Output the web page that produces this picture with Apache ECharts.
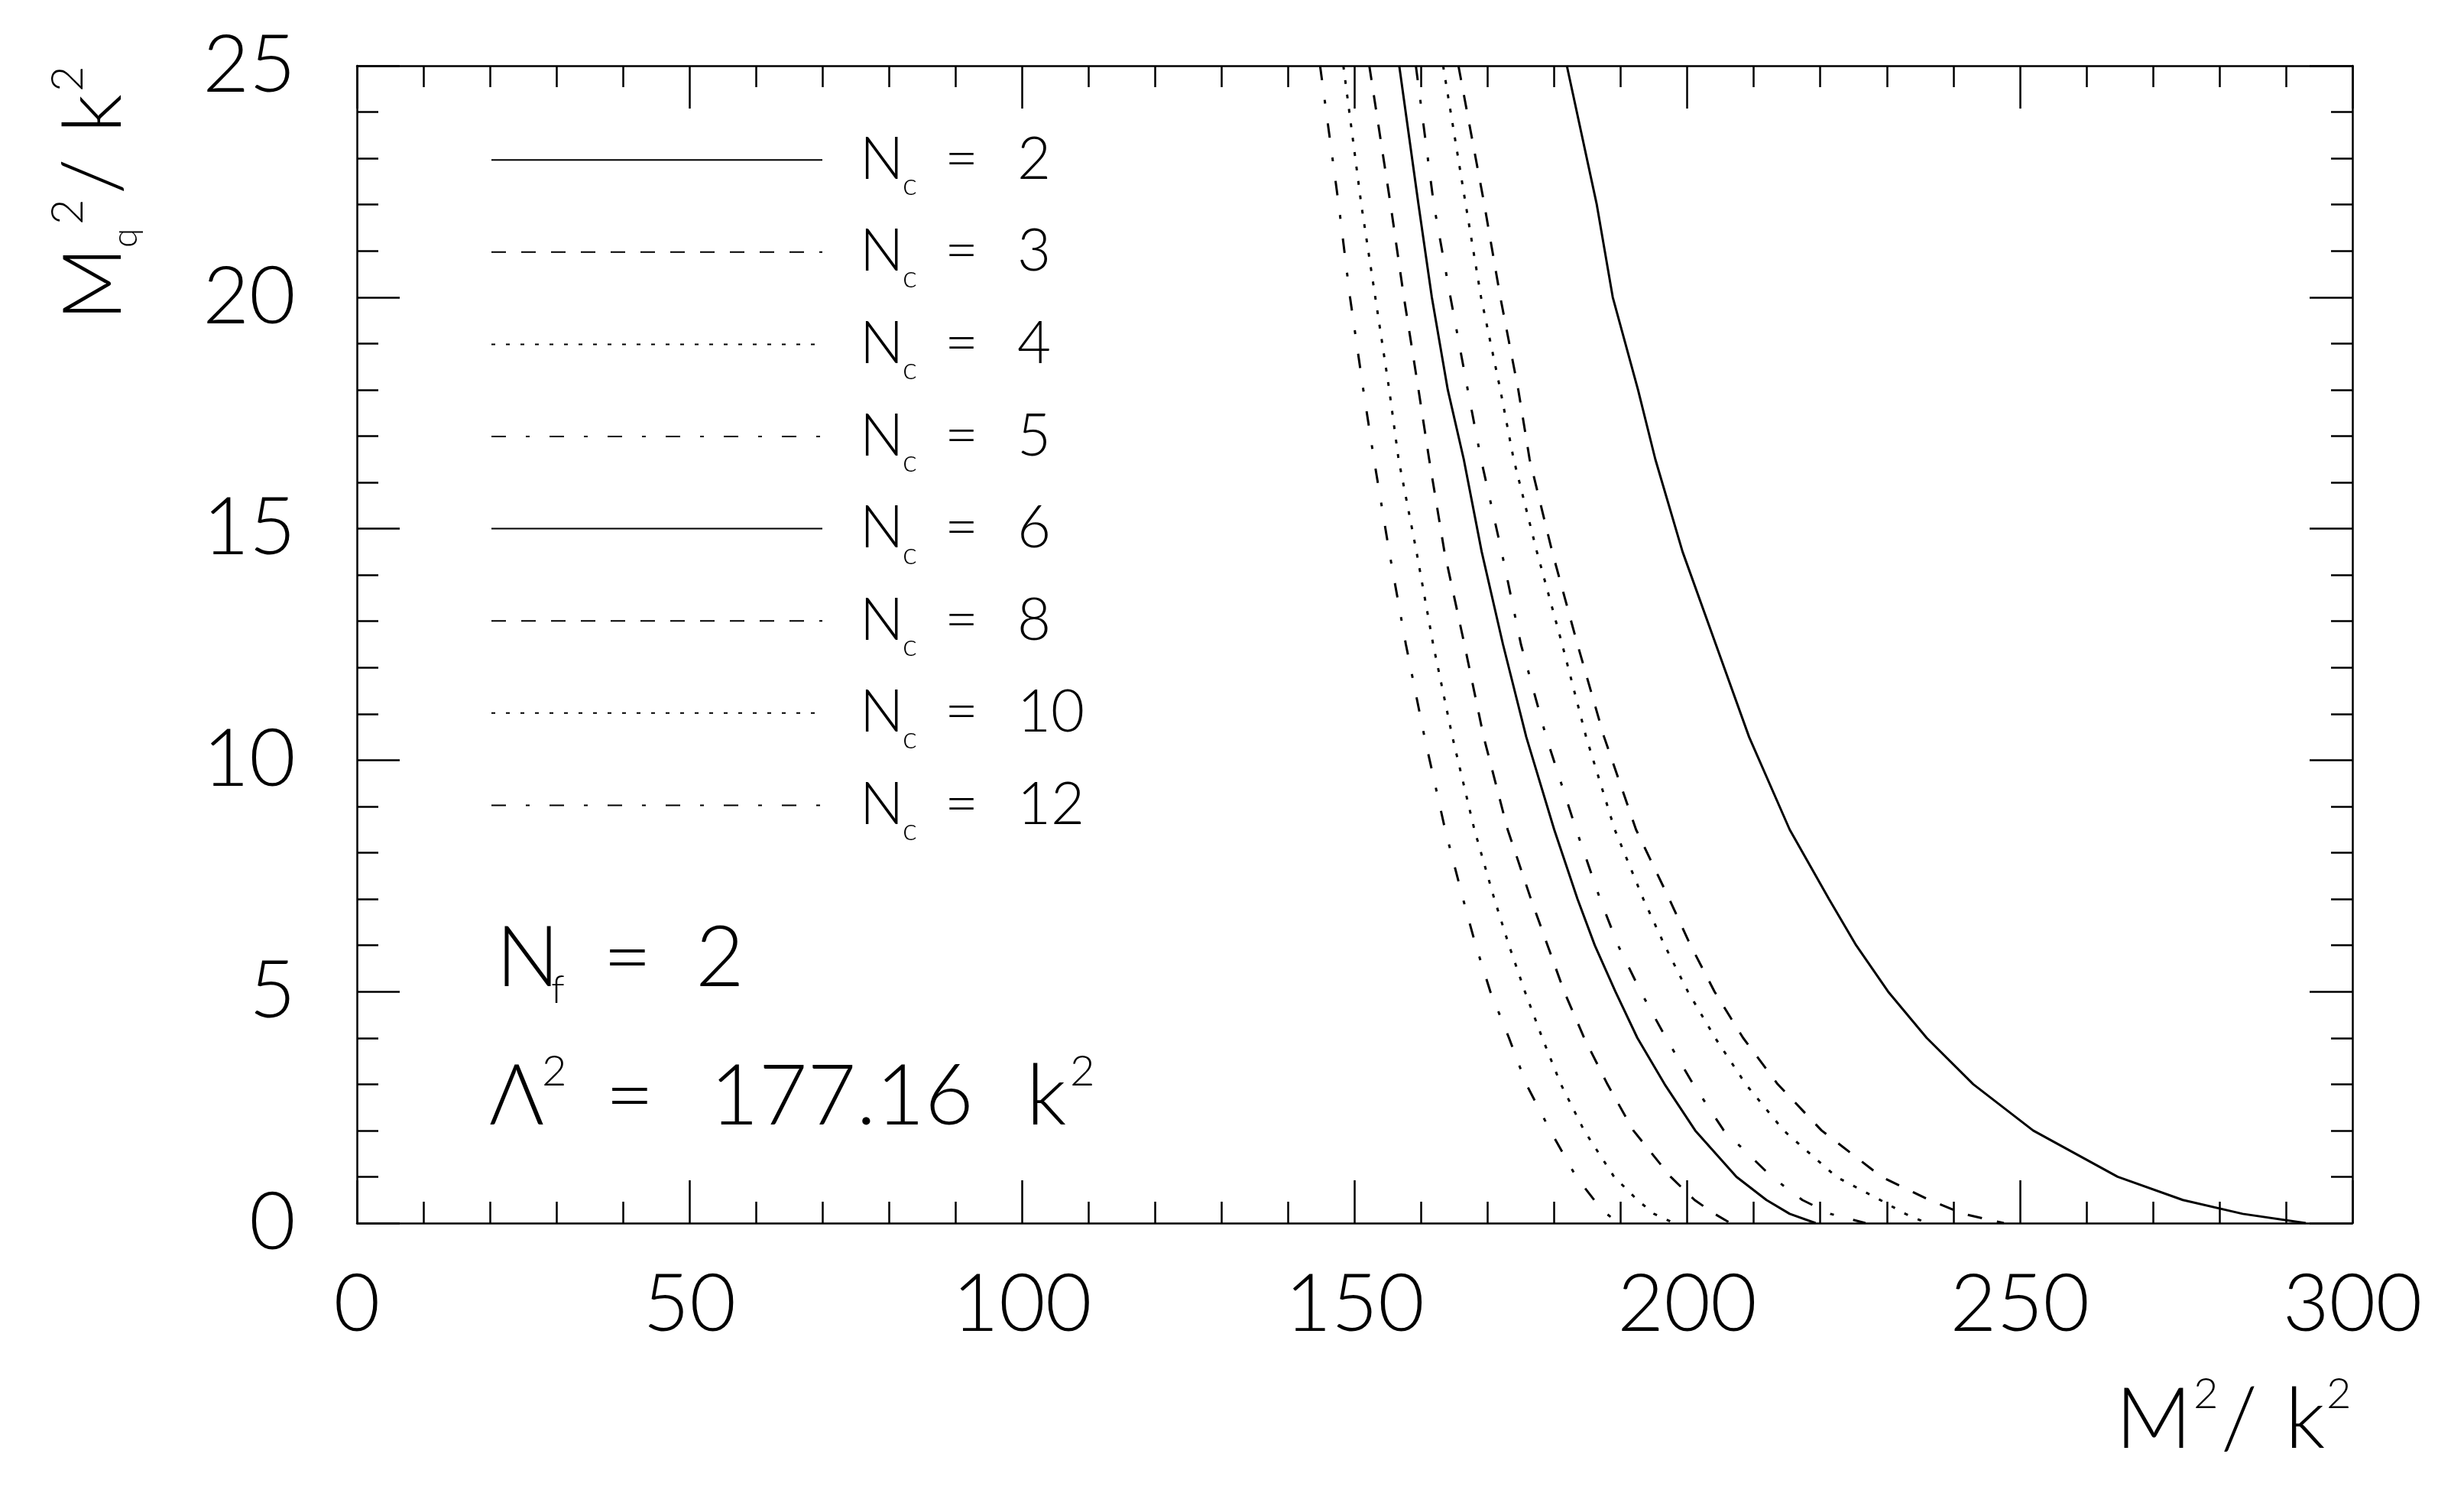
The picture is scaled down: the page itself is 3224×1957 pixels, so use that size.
<!DOCTYPE html>
<html><head><meta charset="utf-8">
<script src="https://cdn.jsdelivr.net/npm/echarts@6/dist/echarts.min.js"></script>
<style>html,body{margin:0;padding:0;background:#fff}#c{width:3224px;height:1957px}</style>
</head><body><div id="c"></div>
<script>
// M_q^2/k^2 levels (y) shared by all curves
const mq2Levels = [25, 22, 20, 18, 16.5, 14.5, 12.5, 10.5, 8.5, 7, 6, 5, 4, 3, 2, 1, 0.5, 0.2, 0];
// M^2/k^2 (x) of each curve at those levels
const m2_nc2  = [181.9, 186.4, 188.8, 192.6, 195.2, 199.3, 204.3, 209.3, 215.4, 221.3, 225.4, 230.2, 236.0, 243.0, 252.0, 264.7, 274.5, 283.5, 293.0];
const m2_nc3  = [165.6, 169.5, 171.9, 174.6, 176.3, 179.7, 183.5, 187.5, 192.3, 197.3, 200.5, 204.1, 208.4, 213.6, 220.2, 229.2, 236.4, 241.5, 247.6];
const m2_nc4  = [163.3, 166.7, 169.0, 171.9, 173.9, 177.4, 181.2, 184.8, 189.1, 193.4, 196.6, 200.1, 204.2, 208.8, 214.5, 222.4, 229.0, 232.8, 236.0];
const m2_nc5  = [159.2, 161.9, 164.4, 167.0, 169.0, 172.1, 175.0, 178.8, 183.3, 186.9, 189.6, 193.0, 196.8, 200.9, 205.5, 212.7, 217.3, 221.5, 226.8];
const m2_nc6  = [156.7, 159.6, 161.6, 164.0, 166.4, 169.1, 172.3, 175.8, 180.0, 183.5, 186.1, 189.2, 192.5, 196.6, 201.2, 207.4, 211.9, 215.4, 219.3];
const m2_nc8  = [152.2, 155.4, 157.4, 159.6, 161.2, 163.5, 166.5, 169.4, 173.0, 176.5, 179.0, 181.5, 184.5, 188.0, 191.9, 197.5, 201.1, 204.1, 206.5];
const m2_nc10 = [148.3, 151.0, 153.1, 155.2, 156.6, 159.3, 161.8, 164.7, 168.0, 171.0, 173.2, 175.6, 178.2, 181.0, 184.5, 189.0, 192.5, 195.0, 198.0];
const m2_nc12 = [144.8, 147.6, 149.3, 151.3, 152.9, 155.2, 157.7, 160.5, 163.6, 166.3, 168.2, 170.4, 173.2, 175.8, 179.4, 183.3, 186.0, 187.9, 189.6];

const ncValues = ['2', '3', '4', '5', '6', '8', '10', '12'];
const curveX = [m2_nc2, m2_nc3, m2_nc4, m2_nc5, m2_nc6, m2_nc8, m2_nc10, m2_nc12];
const xTicks = { min: 0, max: 300, interval: 50 };
const yTicks = { min: 0, max: 25, interval: 5 };

// styles
const DASH = [19, 20], DOT = [5, 14], DASHDOT = [19, 26, 5, 26];
const lineKinds = ['solid', DASH, DOT, DASHDOT, 'solid', DASH, DOT, DASHDOT];
const FF = 'Lato, "DejaVu Sans", sans-serif';
const FW = 300;

const series = ncValues.map((nc, k) => ({
  name: 'Nc = ' + nc,
  type: 'line',
  data: curveX[k].map((x, i) => [x, mq2Levels[i]]),
  showSymbol: false, symbol: 'none', smooth: false, animation: false,
  lineStyle: { color: '#000', width: 3, type: lineKinds[k] },
  itemStyle: { color: '#000' },
  clip: true
}));

function axisCommon(showLabels, base) {
  return Object.assign({
    type: 'value',
    axisLine: { show: true, onZero: false, lineStyle: { color: '#000', width: 2.5 } },
    axisTick: { show: true, inside: true, length: 56, lineStyle: { color: '#000', width: 2.5 } },
    minorTick: { show: true, splitNumber: 5, length: 28, lineStyle: { color: '#000', width: 2.5 } },
    splitLine: { show: false }, minorSplitLine: { show: false },
    axisLabel: { show: showLabels, color: '#000', fontFamily: FF, fontWeight: FW, fontSize: 105,
                 showMinLabel: true, showMaxLabel: true }
  }, base);
}

const chart = echarts.init(document.getElementById('c'), null, { renderer: 'canvas' });
const mainTok = { fontFamily: FF, fontWeight: FW, color: '#000', verticalAlign: 'middle' };

chart.setOption({
  animation: false,
  backgroundColor: '#fff',
  grid: { left: 467, right: 146, top: 86, bottom: 357, containLabel: false, outerBoundsMode: 'none' },
  xAxis: [
    axisCommon(true, Object.assign({ position: 'bottom' }, xTicks, {
      axisLabel: { show: true, color: '#000', fontFamily: FF, fontWeight: FW, fontSize: 105, margin: 107,
                   verticalAlign: 'middle', showMinLabel: true, showMaxLabel: true } })),
    axisCommon(false, Object.assign({ position: 'top' }, xTicks))
  ],
  yAxis: [
    axisCommon(true, Object.assign({ position: 'left' }, yTicks, {
      axisLabel: { show: true, color: '#000', fontFamily: FF, fontWeight: FW, fontSize: 105, margin: 80,
                   showMinLabel: true, showMaxLabel: true } })),
    axisCommon(false, Object.assign({ position: 'right' }, yTicks))
  ],
  legend: {
    orient: 'vertical', left: 637, top: 151.2, padding: 5,
    itemWidth: 433, itemHeight: 90, itemGap: 14.6,
    selectedMode: false,
    itemStyle: { opacity: 0, borderWidth: 0 },
    data: series.map(s => s.name),
    formatter: name => '{g|\u00a0}{n|N}{c|c}{e|=}{v|' + name.split('= ')[1] + '}',
    textStyle: {
      color: '#000', fontFamily: FF, fontWeight: FW, fontSize: 76,
      rich: {
        g: Object.assign({}, mainTok, { fontSize: 20, width: 44, lineHeight: 90 }),
        n: Object.assign({}, mainTok, { fontSize: 76, width: 56, lineHeight: 90 }),
        c: Object.assign({}, mainTok, { fontSize: 40, width: 55, lineHeight: 24, padding: [66, 0, 0, 0] }),
        e: Object.assign({}, mainTok, { fontSize: 76, width: 95, lineHeight: 90 }),
        v: Object.assign({}, mainTok, { fontSize: 76, lineHeight: 90 })
      }
    }
  },
  graphic: [
    { type: 'text', x: 649, y: 1254.5, silent: true,
      style: { x: 0, y: 0, align: 'left', verticalAlign: 'middle',
        text: '{n|N}{f|f}{e|=}{n2|2}',
        rich: {
          n: Object.assign({}, mainTok, { fontSize: 110, width: 72, lineHeight: 130 }),
          f: Object.assign({}, mainTok, { fontSize: 52, width: 68, lineHeight: 40, padding: [81, 0, 0, 0] }),
          e: Object.assign({}, mainTok, { fontSize: 110, width: 121, lineHeight: 130 }),
          n2: Object.assign({}, mainTok, { fontSize: 110, lineHeight: 130 })
        } } },
    { type: 'text', x: 640, y: 1436, silent: true,
      style: { x: 0, y: 0, align: 'left', verticalAlign: 'middle',
        text: '{L|\u039b}{s|2}{e|=}{num|177.16}{k|k}{s2|2}',
        rich: {
          L: Object.assign({}, mainTok, { fontSize: 110, width: 69, lineHeight: 150 }),
          s: Object.assign({}, mainTok, { fontSize: 56, width: 83, lineHeight: 60, padding: [0, 0, 69, 0] }),
          e: Object.assign({}, mainTok, { fontSize: 110, width: 137, lineHeight: 150 }),
          num: Object.assign({}, mainTok, { fontSize: 110, width: 414, lineHeight: 150 }),
          k: Object.assign({}, mainTok, { fontSize: 110, width: 57, lineHeight: 150 }),
          s2: Object.assign({}, mainTok, { fontSize: 56, lineHeight: 60, padding: [0, 0, 69, 0] })
        } } },
    // x axis name  M^2 / k^2
    { type: 'text', x: 2768, y: 1859, silent: true,
      style: { x: 0, y: 0, align: 'left', verticalAlign: 'middle',
        text: '{m|M}{s|2}{sl|/}{k|k}{s|2}',
        rich: {
          m: Object.assign({}, mainTok, { fontSize: 110, width: 102, lineHeight: 150 }),
          s: Object.assign({}, mainTok, { fontSize: 56, width: 36, lineHeight: 60, padding: [0, 0, 71, 0] }),
          sl: Object.assign({}, mainTok, { fontSize: 110, width: 84, lineHeight: 150 }),
          k: Object.assign({}, mainTok, { fontSize: 110, width: 54, lineHeight: 150 })
        } } },
    // y axis name  M_q^2 / k^2 (rotated)
    { type: 'text', x: 123.5, y: 420, rotation: Math.PI / 2, silent: true,
      style: { x: 0, y: 0, align: 'left', verticalAlign: 'middle',
        text: '{m|M}{q|q}{s|2}{sl|/}{k|k}{s2|2}',
        rich: {
          m: Object.assign({}, mainTok, { fontSize: 107, width: 96, lineHeight: 150 }),
          q: Object.assign({}, mainTok, { fontSize: 46, width: 30, lineHeight: 40, padding: [81, 0, 0, 0] }),
          s: Object.assign({}, mainTok, { fontSize: 58, width: 40, lineHeight: 60, padding: [0, 0, 69, 0] }),
          sl: Object.assign({}, mainTok, { fontSize: 107, width: 80, lineHeight: 150 }),
          k: Object.assign({}, mainTok, { fontSize: 107, width: 54, lineHeight: 150 }),
          s2: Object.assign({}, mainTok, { fontSize: 58, lineHeight: 60, padding: [0, 0, 69, 0] })
        } } }
  ],
  series: series
});
</script>
</body></html>
